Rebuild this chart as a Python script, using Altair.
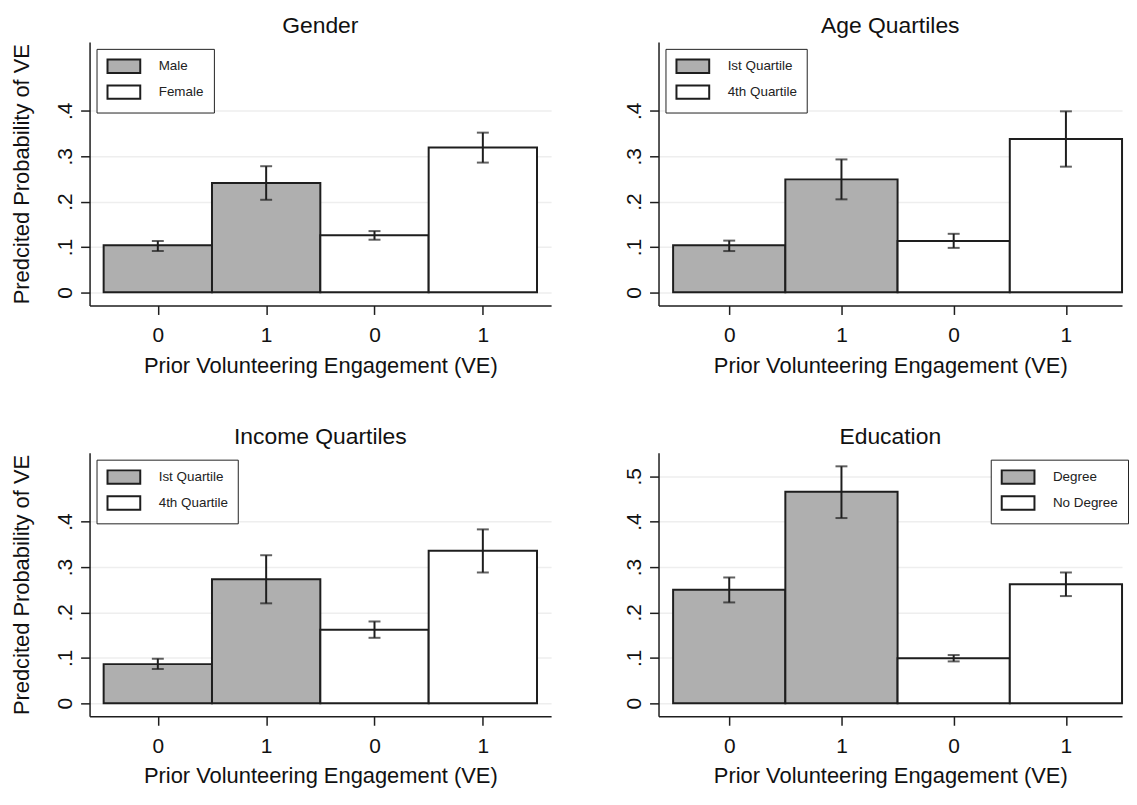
import altair as alt
import pandas as pd

# ---- data ----
panel_titles = ["Gender", "Age Quartiles", "Income Quartiles", "Education"]
legend_labels = [["Male", "Female"], ["Ist Quartile", "4th Quartile"],
                 ["Ist Quartile", "4th Quartile"], ["Degree", "No Degree"]]
ve_values = [0, 1, 0, 1]

gender_p = [0.104, 0.241, 0.126, 0.319]
gender_lo = [0.091, 0.204, 0.116, 0.286]
gender_hi = [0.113, 0.278, 0.135, 0.352]

age_p = [0.104, 0.249, 0.113, 0.338]
age_lo = [0.091, 0.205, 0.098, 0.277]
age_hi = [0.114, 0.293, 0.129, 0.399]

income_p = [0.086, 0.273, 0.162, 0.336]
income_lo = [0.075, 0.220, 0.144, 0.288]
income_hi = [0.098, 0.326, 0.180, 0.383]

edu_p = [0.250, 0.466, 0.099, 0.262]
edu_lo = [0.222, 0.408, 0.092, 0.236]
edu_hi = [0.277, 0.522, 0.106, 0.288]

y_ticks_short = [0, 0.1, 0.2, 0.3, 0.4]
y_ticks_long = [0, 0.1, 0.2, 0.3, 0.4, 0.5]

FONT = "Liberation Sans"
BAR_GREY = "#afafaf"
INK = "#1e1e1e"
PLOT_H = 265


def panel(idx, p, lo, hi, left_col, y_ticks, legend_x):
    labels = legend_labels[idx]
    grp = [labels[0], labels[0], labels[1], labels[1]]
    df = pd.DataFrame({
        "pos": [1, 2, 3, 4],
        "ve": ve_values,
        "grp": grp,
        "p": p, "lo": lo, "hi": hi,
    })
    df["left"] = df["pos"] - 0.5
    df["right"] = df["pos"] + 0.5

    if left_col:
        xdom = [0.37, 4.63]
        width = 464
    else:
        xdom = [0.37, 4.50]
        width = 466

    xscale = alt.Scale(domain=xdom, nice=False, zero=False)
    yscale = alt.Scale(domain=[-0.029, 0.552], nice=False, zero=False)

    xaxis = alt.Axis(values=[1, 2, 3, 4], labelExpr="(datum.value + 1) % 2",
                     grid=False, title="Prior Volunteering Engagement (VE)")
    yaxis = alt.Axis(values=y_ticks, grid=True,
                     labelExpr="datum.value == 0 ? '0' : replace(format(datum.value, '.1f'), '0.', '.')",
                     labelAngle=270, labelAlign="center", labelBaseline="bottom",
                     labelPadding=5, minExtent=35, maxExtent=35, titlePadding=21)

    ytitle = "Predcited Probability of VE" if left_col else None

    legend_kwargs = dict(
        orient="none",
        legendX=legend_x,
        legendY=7,
        padding=9.5,
        symbolType="M-2.44,-1H2.44V1H-2.44Z",
        symbolSize=182,
        symbolStrokeColor=INK,
        symbolStrokeWidth=2,
        symbolOffset=10,
        labelOffset=27,
        rowPadding=4,
        labelFontSize=13.5,
        labelFont=FONT,
        labelColor="#222",
        strokeColor="#222",
        fillColor="white",
    )

    fill = alt.Fill("grp:N", title=None,
                    scale=alt.Scale(domain=labels, range=[BAR_GREY, "#ffffff"]),
                    sort=labels,
                    legend=alt.Legend(**legend_kwargs))

    base = alt.Chart(df)
    bars = base.mark_bar(stroke=INK, strokeWidth=2).encode(
        x=alt.X("left:Q", scale=xscale, axis=xaxis),
        x2="right:Q",
        y=alt.Y("p:Q", scale=yscale, axis=yaxis, title=ytitle),
        y2=alt.datum(0),
        fill=fill,
    )
    err = base.mark_rule(color=INK, strokeWidth=2).encode(
        x=alt.X("pos:Q", scale=xscale), y=alt.Y("lo:Q", scale=yscale), y2="hi:Q")
    cap_lo = base.mark_tick(color=INK, thickness=2, size=12, orient="horizontal").encode(
        x=alt.X("pos:Q", scale=xscale), y=alt.Y("lo:Q", scale=yscale))
    cap_hi = base.mark_tick(color=INK, thickness=2, size=12, orient="horizontal").encode(
        x=alt.X("pos:Q", scale=xscale), y=alt.Y("hi:Q", scale=yscale))

    return alt.layer(bars, err, cap_lo, cap_hi).properties(
        width=width, height=PLOT_H,
        title=alt.TitleParams(panel_titles[idx], fontSize=23, font=FONT,
                              fontWeight="normal", color="#111", offset=4),
    )


c1 = panel(0, gender_p, gender_lo, gender_hi, True, y_ticks_short, 7)
c2 = panel(1, age_p, age_lo, age_hi, False, y_ticks_short, 7)
c3 = panel(2, income_p, income_lo, income_hi, True, y_ticks_short, 7)
c4 = panel(3, edu_p, edu_lo, edu_hi, False, y_ticks_long, 334)

row1 = alt.hconcat(c1, c2, spacing=72).resolve_scale(fill="independent")
row2 = alt.hconcat(c3, c4, spacing=72).resolve_scale(fill="independent")

chart = alt.vconcat(row1, row2, spacing=50).resolve_scale(fill="independent").properties(
    padding={"left": 2, "top": 5, "right": 0, "bottom": 0}
).configure_view(stroke=None).configure_axis(
    domainColor=INK, domainWidth=1.5, tickColor=INK, tickWidth=1.5, tickSize=9,
    labelFont=FONT, labelFontSize=21, labelColor="#111",
    titleFont=FONT, titleFontSize=22, titleFontWeight="normal", titleColor="#111",
    gridColor="#eeeeee", gridWidth=1.5,
).configure_axisX(labelPadding=10, titlePadding=10)

chart.save("out.html", embed_options={"renderer": "svg", "actions": False})
